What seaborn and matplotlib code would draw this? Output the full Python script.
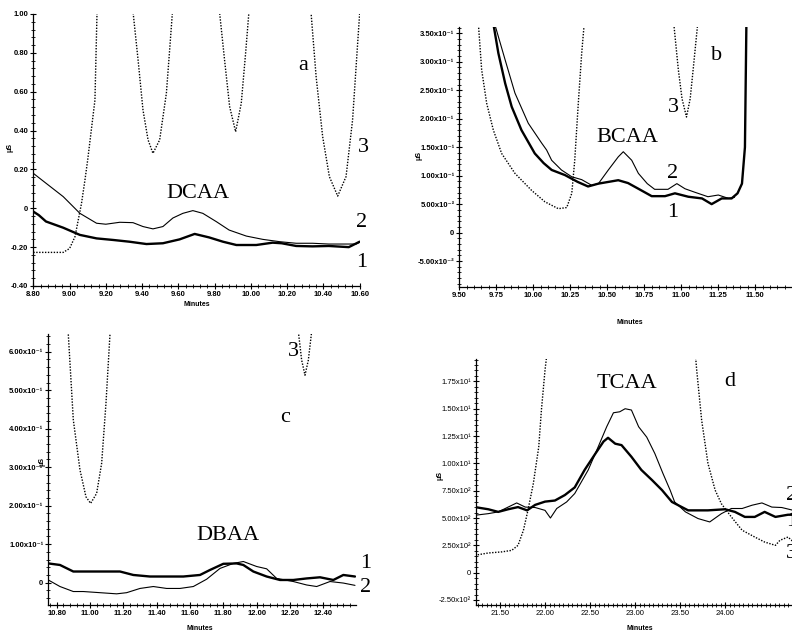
import matplotlib
matplotlib.use("Agg")
import matplotlib.pyplot as plt
import seaborn as sns
from matplotlib.ticker import AutoMinorLocator, MultipleLocator, FixedLocator

sns.set_style("ticks")
plt.rcParams["font.family"] = ["Liberation Sans", "DejaVu Sans"]

W, H = 792, 631

# ---- panel a : DCAA ----
a_x1 = [8.80, 8.83, 8.87, 8.965, 9.057, 9.149, 9.24, 9.33, 9.424, 9.515, 9.607, 9.69,
        9.77, 9.846, 9.92, 10.03, 10.12, 10.17, 10.25, 10.34, 10.43, 10.54, 10.60]
a_y1 = [-0.017, -0.035, -0.068, -0.10, -0.137, -0.155, -0.163, -0.172, -0.184, -0.18, -0.16, -0.132,
        -0.15, -0.172, -0.189, -0.189, -0.177, -0.18, -0.194, -0.196, -0.194, -0.20, -0.172]
a_x2 = [8.80, 8.87, 8.965, 9.057, 9.149, 9.20, 9.277, 9.35, 9.405, 9.46, 9.515, 9.57, 9.625,
        9.68, 9.735, 9.81, 9.88, 9.975, 10.066, 10.16, 10.25, 10.34, 10.43, 10.58, 10.60]
a_y2 = [0.18, 0.129, 0.06, -0.026, -0.077, -0.082, -0.072, -0.074, -0.094, -0.106, -0.094, -0.05, -0.026,
        -0.012, -0.026, -0.069, -0.112, -0.143, -0.16, -0.172, -0.18, -0.18, -0.184, -0.184, -0.175]
a_x3 = [8.80, 8.965, 9.0, 9.03, 9.048, 9.066, 9.085, 9.10, 9.14, 9.152,
        9.348, 9.378, 9.405, 9.433, 9.46, 9.497, 9.534, 9.552, 9.569,
        9.825, 9.855, 9.883, 9.916, 9.947, 9.971, 9.991,
        10.33, 10.36, 10.396, 10.433, 10.479, 10.525, 10.561, 10.589, 10.602]
a_y3 = [-0.227, -0.227, -0.207, -0.146, -0.06, 0.026, 0.146, 0.249, 0.557, 1.03,
        1.03, 0.763, 0.506, 0.352, 0.283, 0.352, 0.592, 0.815, 1.03,
        1.03, 0.763, 0.523, 0.394, 0.54, 0.798, 1.03,
        1.03, 0.677, 0.369, 0.163, 0.063, 0.163, 0.454, 0.849, 1.03]
a_xticks = [8.80, 9.00, 9.20, 9.40, 9.60, 9.80, 10.00, 10.20, 10.40, 10.60]
a_yticks = [-0.40, -0.20, 0, 0.20, 0.40, 0.60, 0.80, 1.00]
a_ylabels = ["-0.40", "-0.20", "0", "0.20", "0.40", "0.60", "0.80", "1.00"]

# ---- panel b : BCAA ----
b_x1 = [9.728, 9.764, 9.81, 9.854, 9.92, 10.01, 10.07, 10.124, 10.214, 10.30,
        10.37, 10.44, 10.507, 10.574, 10.64, 10.71, 10.80, 10.89, 10.957, 11.047, 11.14,
        11.205, 11.273, 11.34, 11.38, 11.41, 11.43, 11.44]
b_y1 = [0.37, 0.315, 0.262, 0.221, 0.180, 0.139, 0.122, 0.110, 0.101, 0.089,
        0.081, 0.086, 0.089, 0.092, 0.087, 0.077, 0.064, 0.064, 0.069, 0.063, 0.060,
        0.050, 0.060, 0.060, 0.069, 0.086, 0.15, 0.37]
b_x2 = [9.735, 9.81, 9.876, 9.966, 10.057, 10.09, 10.124, 10.19, 10.26, 10.327,
        10.395, 10.44, 10.507, 10.574, 10.608, 10.665, 10.71, 10.77, 10.82, 10.91, 10.97,
        11.025, 11.09, 11.18, 11.25, 11.32, 11.36]
b_y2 = [0.37, 0.303, 0.245, 0.192, 0.157, 0.145, 0.127, 0.110, 0.098, 0.093,
        0.083, 0.086, 0.110, 0.133, 0.142, 0.127, 0.104, 0.086, 0.076, 0.076, 0.086,
        0.077, 0.071, 0.063, 0.066, 0.060, 0.062]
b_x3 = [9.628, 9.651, 9.685, 9.73, 9.786, 9.876, 9.989, 10.079, 10.169, 10.226, 10.26, 10.28,
        10.304, 10.327, 10.345,
        10.948, 10.98, 11.005, 11.035, 11.06, 11.08, 11.112]
b_y3 = [0.37, 0.286, 0.227, 0.180, 0.139, 0.104, 0.074, 0.054, 0.042, 0.044, 0.069, 0.127,
        0.227, 0.315, 0.37,
        0.37, 0.286, 0.235, 0.203, 0.235, 0.286, 0.37]
b_xticks = [9.50, 9.75, 10.00, 10.25, 10.50, 10.75, 11.00, 11.25, 11.50]
b_yticks = [-0.05, 0, 0.05, 0.10, 0.15, 0.20, 0.25, 0.30, 0.35]
b_ylabels = ["-5.00x10⁻²", "0", "5.00x10⁻²", "1.00x10⁻¹", "1.50x10⁻¹", "2.00x10⁻¹",
             "2.50x10⁻¹", "3.00x10⁻¹", "3.50x10⁻¹"]

# ---- panel c : DBAA ----
c_x1 = [10.75, 10.82, 10.90, 11.00, 11.10, 11.18, 11.26, 11.36, 11.46, 11.56, 11.66, 11.72,
        11.80, 11.88, 11.92, 11.98, 12.06, 12.14, 12.22, 12.30, 12.38, 12.46, 12.52, 12.59]
c_y1 = [0.050, 0.046, 0.029, 0.029, 0.029, 0.029, 0.020, 0.016, 0.016, 0.016, 0.020, 0.033,
        0.049, 0.050, 0.046, 0.029, 0.016, 0.007, 0.007, 0.011, 0.014, 0.007, 0.020, 0.016]
c_x2 = [10.75, 10.82, 10.90, 10.96, 11.06, 11.16, 11.22, 11.30, 11.38, 11.46, 11.54, 11.62,
        11.70, 11.78, 11.86, 11.92, 12.00, 12.06, 12.12, 12.22, 12.30, 12.36, 12.44, 12.52, 12.59]
c_y2 = [0.007, -0.010, -0.023, -0.023, -0.026, -0.029, -0.026, -0.015, -0.010, -0.015, -0.015, -0.010,
        0.009, 0.037, 0.050, 0.055, 0.042, 0.036, 0.011, 0.003, -0.006, -0.010, 0.003, -0.001, -0.007]
c_x3 = [10.868, 10.90, 10.94, 10.976, 11.004, 11.04, 11.07, 11.096, 11.122,
        12.248, 12.27, 12.29, 12.31, 12.332]
c_y3 = [0.66, 0.423, 0.293, 0.223, 0.206, 0.232, 0.31, 0.466, 0.66,
        0.66, 0.578, 0.539, 0.578, 0.66]
c_xticks = [10.80, 11.00, 11.20, 11.40, 11.60, 11.80, 12.00, 12.20, 12.40]
c_yticks = [0, 0.1, 0.2, 0.3, 0.4, 0.5, 0.6]
c_ylabels = ["0", "1.00x10⁻¹", "2.00x10⁻¹", "3.00x10⁻¹", "4.00x10⁻¹", "5.00x10⁻¹", "6.00x10⁻¹"]

# ---- panel d : TCAA ----
d_x1 = [21.22, 21.37, 21.48, 21.59, 21.70, 21.80, 21.89, 22.0, 22.11, 22.22, 22.33, 22.44,
        22.56, 22.65, 22.70, 22.78, 22.85, 22.96, 23.07, 23.19, 23.30, 23.41, 23.48, 23.59,
        23.81, 24.0, 24.11, 24.22, 24.33, 24.44, 24.56, 24.70, 24.76]
d_y1 = [0.060, 0.058, 0.0556, 0.058, 0.060, 0.057, 0.062, 0.065, 0.066, 0.071, 0.078, 0.094,
        0.109, 0.120, 0.1234, 0.118, 0.1167, 0.106, 0.094, 0.0846, 0.0755, 0.0647, 0.0617, 0.057,
        0.057, 0.058, 0.0556, 0.051, 0.051, 0.0556, 0.051, 0.053, 0.053]
d_x2 = [21.22, 21.37, 21.48, 21.59, 21.685, 21.78, 21.89, 22.0, 22.06, 22.13, 22.24, 22.33,
        22.48, 22.59, 22.685, 22.76, 22.83, 22.89, 22.96, 23.04, 23.13, 23.22, 23.31, 23.39,
        23.44, 23.56, 23.70, 23.83, 23.96, 24.07, 24.19, 24.30, 24.41, 24.52, 24.63, 24.76]
d_y2 = [0.0525, 0.054, 0.0556, 0.060, 0.0638, 0.060, 0.0596, 0.057, 0.050, 0.0587, 0.0647, 0.0724,
        0.094, 0.115, 0.1335, 0.1463, 0.1472, 0.150, 0.1488, 0.1335, 0.124, 0.109, 0.0908, 0.0755,
        0.0647, 0.0556, 0.0495, 0.0464, 0.054, 0.0587, 0.0587, 0.0617, 0.0638, 0.060, 0.0596, 0.057]
d_x3 = [21.22, 21.37, 21.52, 21.63, 21.70, 21.76, 21.81, 21.87, 21.93, 21.96, 22.0, 22.035,
        23.66, 23.685, 23.74, 23.81, 23.89, 23.96, 24.07, 24.19, 24.33, 24.44, 24.56, 24.61,
        24.70, 24.76]
d_y3 = [0.0159, 0.018, 0.019, 0.0204, 0.025, 0.0388, 0.057, 0.0816, 0.115, 0.149, 0.1855, 0.21,
        0.21, 0.1855, 0.1396, 0.10, 0.0755, 0.063, 0.051, 0.0388, 0.0326, 0.028, 0.025, 0.0296,
        0.0326, 0.028]
d_xticks = [21.50, 22.00, 22.50, 23.00, 23.50, 24.00]
d_yticks = [-0.025, 0, 0.025, 0.05, 0.075, 0.10, 0.125, 0.15, 0.175]
d_ylabels = ["-2.50x10²", "0", "2.50x10²", "5.00x10²", "7.50x10²", "1.00x10¹",
             "1.25x10¹", "1.50x10¹", "1.75x10¹"]

fig = plt.figure(figsize=(W / 100, H / 100), dpi=100)


def px_axes(l, t, r, b):
    return fig.add_axes([l / W, 1 - b / H, (r - l) / W, (b - t) / H])


def px_text(x, y, s, **kw):
    fig.text(x / W, 1 - y / H, s, **kw)


def draw_panel(ax, xs, ys, xlim, ylim, xticks, xminor, yticks, ylabels, yminor, bold):
    x1, x2, x3 = xs
    y1, y2, y3 = ys
    sns.lineplot(x=x3, y=y3, ax=ax, color="black", linewidth=1.0,
                 linestyle=(0, (1, 1.1)), estimator=None, sort=False)
    sns.lineplot(x=x2, y=y2, ax=ax, color="black", linewidth=0.8,
                 estimator=None, sort=False)
    sns.lineplot(x=x1, y=y1, ax=ax, color="black", linewidth=1.7,
                 estimator=None, sort=False)
    ax.set_xlim(*xlim)
    ax.set_ylim(*ylim)
    sns.despine(ax=ax)
    for s in ("left", "bottom"):
        ax.spines[s].set_linewidth(0.9)
        ax.spines[s].set_color("black")
    ax.xaxis.set_major_locator(FixedLocator(xticks))
    ax.set_xticklabels([f"{t:.2f}" for t in xticks])
    ax.xaxis.set_minor_locator(MultipleLocator(xminor))
    ax.yaxis.set_major_locator(FixedLocator(yticks))
    ax.set_yticklabels(ylabels)
    ax.yaxis.set_minor_locator(AutoMinorLocator(yminor))
    ax.tick_params(which="major", direction="inout", length=4, width=0.8,
                   labelsize=5.5, pad=1.5, colors="black")
    ax.tick_params(which="minor", direction="inout", length=2.2, width=0.6, colors="black")
    wt = "bold" if bold else "normal"
    for lab in ax.get_xticklabels() + ax.get_yticklabels():
        lab.set_fontweight(wt)
    ax.set_xlabel("")
    ax.set_ylabel("")
    ax.patch.set_alpha(0)


serif = ["Liberation Serif", "DejaVu Serif"]
big = dict(family=serif, fontsize=16, ha="center", va="center", color="black")
small = dict(fontsize=5, fontweight="bold", ha="center", va="center", color="black")

# panel a
ax_a = px_axes(33.3, 14, 360, 286)
draw_panel(ax_a, (a_x1, a_x2, a_x3), (a_y1, a_y2, a_y3), (8.80, 10.602), (-0.40, 1.00),
           a_xticks, 0.04, a_yticks, a_ylabels, 5, True)
px_text(303, 66, "a", **big)
px_text(198, 194, "DCAA", **big)
px_text(363, 147, "3", **big)
px_text(362, 223, "2", **big)
px_text(362, 263, "1", **big)
px_text(10, 147, "μS", rotation=90, **small)
px_text(197, 304, "Minutes", **small)

# panel b
ax_b = px_axes(459.3, 27, 792, 287)
draw_panel(ax_b, (b_x1, b_x2, b_x3), (b_y1, b_y2, b_y3), (9.50, 11.748), (-0.0955, 0.361),
           b_xticks, 0.05, b_yticks, b_ylabels, 5, True)
px_text(717, 56, "b", **big)
px_text(627, 138, "BCAA", **big)
px_text(673, 108, "3", **big)
px_text(673, 173, "2", **big)
px_text(673, 213, "1", **big)
px_text(419, 155, "μS", rotation=90, **small)
px_text(630, 322, "Minutes", **small)

# panel c
ax_c = px_axes(48.3, 334, 356, 605)
draw_panel(ax_c, (c_x1, c_x2, c_x3), (c_y1, c_y2, c_y3), (10.75, 12.596), (-0.058, 0.646),
           c_xticks, 0.04, c_yticks, c_ylabels, 5, True)
px_text(293, 351, "3", **big)
px_text(285, 417, "c", **big)
px_text(228, 536, "DBAA", **big)
px_text(366, 563, "1", **big)
px_text(366, 588, "2", **big)
px_text(42, 462, "μS", rotation=90, **small)
px_text(200, 629, "Minutes", **small)

# panel d
ax_d = px_axes(476, 359, 792, 605)
draw_panel(ax_d, (d_x1, d_x2, d_x3), (d_y1, d_y2, d_y3), (21.233, 24.744), (-0.0296, 0.1955),
           d_xticks, 0.05, d_yticks, d_ylabels, 5, False)
px_text(627, 384, "TCAA", **big)
px_text(730, 382, "d", **big)
# digits cut by the right edge, as in the scan
edge = dict(family=serif, fontsize=16, ha="left", va="center", color="black")
px_text(786, 496, "2", **edge)
px_text(786, 521, "1", **edge)
px_text(786, 553, "3", **edge)
px_text(440, 476, "μS", rotation=90, **small)
px_text(640, 629, "Minutes", **small)

fig.savefig("out.png", dpi=100, facecolor="white")
